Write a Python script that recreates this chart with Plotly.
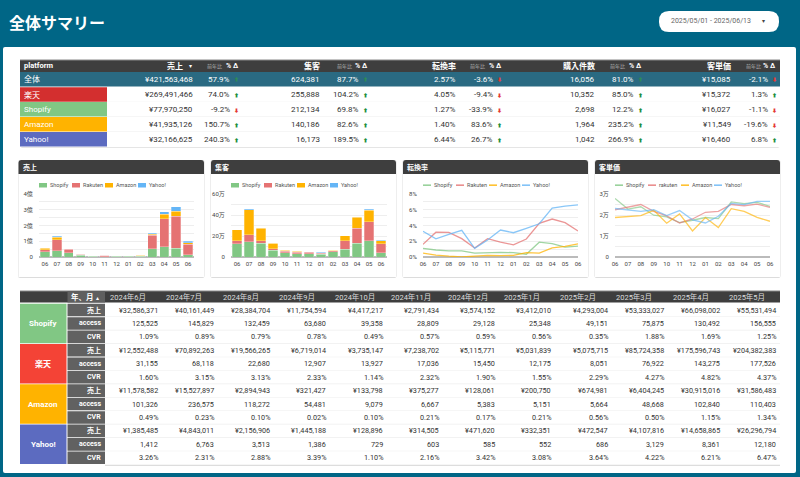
import plotly.graph_objects as go

W, H = 800, 477
FONT = "Roboto, 'Noto Sans CJK JP', sans-serif"
TEAL = "#006686"
DARK = "#3e3e3e"

# summary table
sum_names = ["全体", "楽天", "Shopify", "Amazon", "Yahoo!"]
sum_colors = ["#2a6a82", "#d32f2f", "#81c784", "#ffb300", "#5c6bc0"]
sum_heads = ["売上", "集客", "転換率", "購入件数", "客単価"]
sum_sales = ["¥421,563,468", "¥269,491,466", "¥77,970,250", "¥41,935,126", "¥32,166,625"]
sum_sales_d = ["57.9%", "74.0%", "-9.2%", "150.7%", "240.3%"]
sum_visits = ["624,381", "255,888", "212,134", "140,186", "16,173"]
sum_visits_d = ["87.7%", "104.2%", "69.8%", "82.6%", "189.5%"]
sum_cvr = ["2.57%", "4.05%", "1.27%", "1.40%", "6.44%"]
sum_cvr_d = ["-3.6%", "-9.4%", "-33.9%", "83.6%", "26.7%"]
sum_orders = ["16,056", "10,352", "2,698", "1,964", "1,042"]
sum_orders_d = ["81.0%", "85.0%", "12.2%", "235.2%", "266.9%"]
sum_price = ["¥15,085", "¥15,372", "¥16,027", "¥11,549", "¥16,460"]
sum_price_d = ["-2.1%", "1.3%", "-1.1%", "-19.6%", "6.8%"]

# monthly table
table_months = ["2024年6月", "2024年7月", "2024年8月", "2024年9月", "2024年10月", "2024年11月",
                "2024年12月", "2025年1月", "2025年2月", "2025年3月", "2025年4月", "2025年5月"]
shopify_sales = [32586371, 40161449, 28384704, 11754594, 4417217, 2791434, 3574152, 3412010, 4293004, 53333027, 66098002, 55531494]
rakuten_sales = [12552488, 70892263, 19566265, 6719014, 3735147, 7238702, 5115771, 5031839, 5075715, 85724358, 175596743, 204382383]
amazon_sales = [11578582, 15527897, 2894943, 321427, 133798, 375277, 128061, 200750, 674981, 6404245, 30915016, 31586483]
yahoo_sales = [1385485, 4843011, 2156906, 1445188, 128896, 314505, 471620, 332351, 472547, 4107816, 14658865, 26296794]
shopify_access = [125525, 145829, 132459, 63680, 39358, 28809, 29128, 25348, 49151, 75875, 130492, 156555]
rakuten_access = [31155, 68118, 22680, 12907, 13927, 17036, 15450, 12175, 8051, 76922, 143275, 177526]
amazon_access = [101326, 236575, 118272, 54481, 9079, 6667, 5383, 5151, 5664, 48668, 102840, 110403]
yahoo_access = [1412, 6763, 3513, 1386, 729, 603, 585, 552, 686, 3129, 8361, 12180]
shopify_cvr = [1.09, 0.89, 0.79, 0.78, 0.49, 0.57, 0.59, 0.56, 0.35, 1.88, 1.69, 1.25]
rakuten_cvr = [1.60, 3.15, 3.13, 2.33, 1.14, 2.32, 1.90, 1.55, 2.29, 4.27, 4.82, 4.37]
amazon_cvr = [0.49, 0.23, 0.10, 0.02, 0.10, 0.21, 0.17, 0.21, 0.56, 0.50, 1.15, 1.34]
yahoo_cvr = [3.26, 2.31, 2.88, 3.39, 1.10, 2.16, 3.42, 3.08, 3.64, 4.22, 6.21, 6.47]

# chart series, the last month (June 2025) is only in the charts
chart_months = ["2024-06", "2024-07", "2024-08", "2024-09", "2024-10", "2024-11", "2024-12",
                "2025-01", "2025-02", "2025-03", "2025-04", "2025-05", "2025-06"]
month_labels = ["06", "07", "08", "09", "10", "11", "12", "01", "02", "03", "04", "05", "06"]
june_sales = [15000000, 66000000, 11000000, 8000000]
june_access = [42000, 83000, 28000, 7000]
june_cvr = [1.38, 3.30, 1.68, 6.62]
shopify_price = [27900, 22800, 23900, 19900, 19100, 16400, 17500, 18800, 18300, 26200, 25400, 26000, 24100]
rakuten_price = [22500, 23900, 25000, 21700, 19600, 16200, 18100, 21300, 21700, 25000, 24400, 25200, 23600]
amazon_price = [18800, 19300, 19700, 22200, 16100, 20500, 12400, 18800, 14000, 23000, 21700, 18900, 17000]
yahoo_price = [23100, 22500, 21700, 22500, 19700, 22100, 17700, 16200, 19400, 25500, 24900, 26500, 26500]

sales_ticks = [0, 50000000, 100000000, 150000000, 200000000, 250000000, 300000000, 350000000, 400000000]
sales_tick_text = ["0", "", "1億", "", "2億", "", "3億", "", "4億"]
access_ticks = [0, 100000, 200000, 300000, 400000, 500000, 600000]
access_tick_text = ["0", "", "20万", "", "40万", "", "60万"]
cvr_ticks = [0, 1, 2, 3, 4, 5, 6, 7, 8]
cvr_tick_text = ["0%", "", "2%", "", "4%", "", "6%", "", "8%"]
price_ticks = [0, 5000, 10000, 15000, 20000, 25000, 30000]
price_tick_text = ["0", "", "1万", "", "2万", "", "3万"]

series_names = ["Shopify", "Rakuten", "Amazon", "Yahoo"]
series_colors = ["#81c784", "#e57373", "#ffb300", "#64b5f6"]

shapes = []
notes = []


def rect(x0, y0, x1, y1, fill, line=None, width=1):
    shapes.append(dict(type="rect", xref="paper", yref="paper", x0=x0 / W, x1=x1 / W,
                       y0=1 - y0 / H, y1=1 - y1 / H, fillcolor=fill, layer="below",
                       line=dict(color=line, width=width) if line else dict(width=0)))


def rounded(x0, y0, x1, y1, r, fill, top_only=False):
    # path in paper coords, r in px
    def p(x, y):
        return f"{x / W:.5f} {1 - y / H:.5f}"
    bottom_r = 0 if top_only else r
    path = (f"M {p(x0 + r, y0)} L {p(x1 - r, y0)} Q {p(x1, y0)} {p(x1, y0 + r)} "
            f"L {p(x1, y1 - bottom_r)} Q {p(x1, y1)} {p(x1 - bottom_r, y1)} "
            f"L {p(x0 + bottom_r, y1)} Q {p(x0, y1)} {p(x0, y1 - bottom_r)} "
            f"L {p(x0, y0 + r)} Q {p(x0, y0)} {p(x0 + r, y0)} Z")
    shapes.append(dict(type="path", xref="paper", yref="paper", path=path, fillcolor=fill,
                       line=dict(width=0), layer="below"))


def text(x, y, s, size=8, color="#333333", anchor="right", bold=False):
    if bold:
        s = f"<b>{s}</b>"
    notes.append(dict(xref="paper", yref="paper", x=x / W, y=1 - y / H, text=s, showarrow=False,
                      xanchor=anchor, yanchor="middle", borderpad=0,
                      font=dict(family=FONT, size=size, color=color)))


# page
rounded(3, 47, 796, 473, 2, "#ffffff")
text(8, 24, "全体サマリー", 16, "#ffffff", "left", True)
rounded(659, 11, 779, 32, 10, "#ffffff")
text(670, 21, "2025/05/01 - 2025/06/13", 7, "#666666", "left")
text(763, 21, "▾", 6, "#444444", "center")

# summary table
rounded(20, 60, 780, 147.5, 2, "#cccccc")
rect(20, 60, 780, 147, "#ffffff")
rect(20, 60, 780, 72, DARK)
rect(20, 59.5, 780, 60.5, "#888888")
rect(20, 72, 780, 86.5, sum_colors[0])
text(23, 66, "platform", 7.5, "#ffffff", "left", True)
sum_value_right = [194, 321, 457, 596, 732]
sum_delta_right = [231, 360, 494, 634.5, 769]
sum_head_right = [240, 369, 503, 643, 777]
sum_small_left = [206, 336, 469, 609, 745]
for i, head in enumerate(sum_heads):
    right = sum_value_right[i] - (10 if i == 0 else 0)
    text(right, 66, head, 8, "#ffffff", "right", True)
    text(sum_small_left[i], 66.5, "前年比", 5, "#b5b5b5", "left")
    text(sum_head_right[i], 66, "% Δ", 7, "#ffffff", "right", True)
text(190, 66, "▾", 6, "#ffffff", "center")

sum_values = [sum_sales, sum_visits, sum_cvr, sum_orders, sum_price]
sum_deltas = [sum_sales_d, sum_visits_d, sum_cvr_d, sum_orders_d, sum_price_d]
sum_rows = [79.2, 94.5, 109.3, 124.2, 139.2]
for r, name in enumerate(sum_names):
    y = sum_rows[r]
    if r > 0:
        rect(20, y - 7.2, 107, y + 7.2, sum_colors[r])
        if r > 1:
            rect(107, y - 7.6, 780, y - 7.2, "#eeeeee")
    text(23, y, name, 8, "#ffffff", "left")
    col = "#ffffff" if r == 0 else "#333333"
    for c in range(5):
        text(sum_value_right[c], y, sum_values[c][r], 8, col)
        d = sum_deltas[c][r]
        text(sum_delta_right[c], y, d, 8, col)
        down = d.startswith("-")
        arrow_col = "#e53935" if down else ("#2e8b57" if r == 0 else "#1e8e3e")
        text(sum_delta_right[c] + 2, y + 0.3, "⬇" if down else "⬆", 5, arrow_col, "left")

# monthly table
rect(20, 291, 780, 302.5, DARK)
rect(20, 290.5, 780, 291.5, "#888888")
rect(105, 465, 780, 465.6, "#bbbbbb")
rect(67.5, 291, 105, 302.5, "#5f5f5f")
text(70, 297, "年、月", 7.5, "#ffffff", "left", True)
text(97, 297, "▴", 6, "#ffffff", "center")
for m, label in enumerate(table_months):
    text(109 + 56.25 * m, 296.5, label, 7.5, "#dddddd", "left")

blocks = [("Shopify", "#81c784", shopify_sales, shopify_access, shopify_cvr),
          ("楽天", "#f44336", rakuten_sales, rakuten_access, rakuten_cvr),
          ("Amazon", "#ffb300", amazon_sales, amazon_access, amazon_cvr),
          ("Yahoo!", "#5c6bc0", yahoo_sales, yahoo_access, yahoo_cvr)]
ROW = 13.43
TOP = 303.3
for b, (name, color, sales, access, cvr) in enumerate(blocks):
    y0 = TOP + b * 3 * ROW
    rect(20, y0 + 0.4, 66.5, y0 + 3 * ROW - 0.4, color)
    text(43, y0 + 1.5 * ROW, name, 8, "#ffffff", "center", True)
    rows = [("売上", [f"¥{v:,}" for v in sales]),
            ("access", [f"{v:,}" for v in access]),
            ("CVR", [f"{v:.2f}%" for v in cvr])]
    for r, (label, vals) in enumerate(rows):
        ym = y0 + (r + 0.5) * ROW
        rect(67.5, ym - ROW / 2 + 0.4, 105, ym + ROW / 2 - 0.4, "#616161")
        rect(105, ym + ROW / 2 - 0.3, 780, ym + ROW / 2 + 0.3, "#eeeeee")
        text(102, ym, label, 7, "#ffffff", "right", True)
        for m, v in enumerate(vals):
            text(158.7 + 56.25 * m, ym, v, 7.25)


# chart cards
cards = [("売上", 18.5, 204, 39, 194, ["Shopify", "Rakuten", "Amazon", "Yahoo!"]),
         ("集客", 211, 396, 231, 387, ["Shopify", "Rakuten", "Amazon", "Yahoo!"]),
         ("転換率", 403, 588, 423, 578, ["Shopify", "Rakuten", "Amazon", "Yahoo!"]),
         ("客単価", 595, 780, 615, 770, ["Shopify", "rakuten", "Amazon", "Yahoo!"])]
LEGEND_STEP = [33, 33, 33, 33]
for i, (title, x0, x1, px0, px1, legend) in enumerate(cards):
    rounded(x0 - 0.5, 160, x1 + 0.5, 278, 2, "#dcdcdc")
    rect(x0, 161, x1, 277, "#ffffff")
    rounded(x0, 160, x1, 174, 3, DARK, top_only=True)
    text(x0 + 3, 167, title, 7, "#ffffff", "left", True)
    for j, name in enumerate(legend):
        lx = px0 + LEGEND_STEP[i] * j
        if i < 2:
            rect(lx, 183, lx + 8, 187.5, series_colors[j])
        else:
            rect(lx, 184.5, lx + 8, 185.8, series_colors[j])
        text(lx + 10, 185, name, 5.5, "#555555", "left")

fig = go.Figure()


def axes(n, px0, px1, ticks, tick_text):
    xname, yname = ("xaxis", "yaxis") if n == 1 else (f"xaxis{n}", f"yaxis{n}")
    fig.layout[xname] = dict(domain=[px0 / W, px1 / W], type="category", categoryorder="array",
                             categoryarray=chart_months, tickvals=chart_months, ticktext=month_labels,
                             tickfont=dict(family=FONT, size=6, color="#444444"), automargin=False,
                             showgrid=False, zeroline=False, showline=False, ticks="outside", ticklen=1,
                             tickcolor="rgba(0,0,0,0)", anchor=f"y{n if n > 1 else ''}", tickangle=0)
    fig.layout[yname] = dict(domain=[1 - 257 / H, 1 - 194 / H], range=[0, ticks[-1]], tickvals=ticks,
                             ticktext=tick_text, tickfont=dict(family=FONT, size=6, color="#444444"),
                             gridcolor="#eeeeee", gridwidth=1, zeroline=True, zerolinecolor="#bbbbbb",
                             zerolinewidth=1.5, showline=False, ticks="outside", ticklen=4, automargin=False,
                             tickcolor="rgba(0,0,0,0)", fixedrange=True, anchor=f"x{n if n > 1 else ''}")


axes(1, cards[0][3], cards[0][4], sales_ticks, sales_tick_text)
axes(2, cards[1][3], cards[1][4], access_ticks, access_tick_text)
axes(3, cards[2][3], cards[2][4], cvr_ticks, cvr_tick_text)
axes(4, cards[3][3], cards[3][4], price_ticks, price_tick_text)

sales_series = [shopify_sales, rakuten_sales, amazon_sales, yahoo_sales]
access_series = [shopify_access, rakuten_access, amazon_access, yahoo_access]
cvr_series = [shopify_cvr, rakuten_cvr, amazon_cvr, yahoo_cvr]
price_series = [shopify_price, rakuten_price, amazon_price, yahoo_price]

for j, name in enumerate(series_names):
    line = dict(color="rgba(255,255,255,0.45)", width=0.6)
    fig.add_trace(go.Bar(x=chart_months, y=sales_series[j] + [june_sales[j]], name=name, xaxis="x", yaxis="y",
                         marker=dict(color=series_colors[j], line=line), showlegend=False))
    fig.add_trace(go.Bar(x=chart_months, y=access_series[j] + [june_access[j]], name=name, xaxis="x2", yaxis="y2",
                         marker=dict(color=series_colors[j], line=line), showlegend=False))
    fig.add_trace(go.Scatter(x=chart_months, y=cvr_series[j] + [june_cvr[j]], name=name, xaxis="x3", yaxis="y3",
                             mode="lines", line=dict(color=series_colors[j], width=1.3), opacity=0.75, showlegend=False))
    fig.add_trace(go.Scatter(x=chart_months, y=price_series[j], name=name, xaxis="x4", yaxis="y4",
                             mode="lines", line=dict(color=series_colors[j], width=1.3), opacity=0.65, showlegend=False))

fig.update_layout(width=W, height=H, autosize=False, margin=dict(l=0, r=0, t=0, b=0),
                  paper_bgcolor=TEAL, plot_bgcolor="rgba(0,0,0,0)", barmode="stack", bargap=0.22,
                  shapes=shapes, annotations=notes, font=dict(family=FONT), hovermode=False)

fig.write_html("out.html", post_script="document.body.style.margin='0';", config=dict(displayModeBar=False))
